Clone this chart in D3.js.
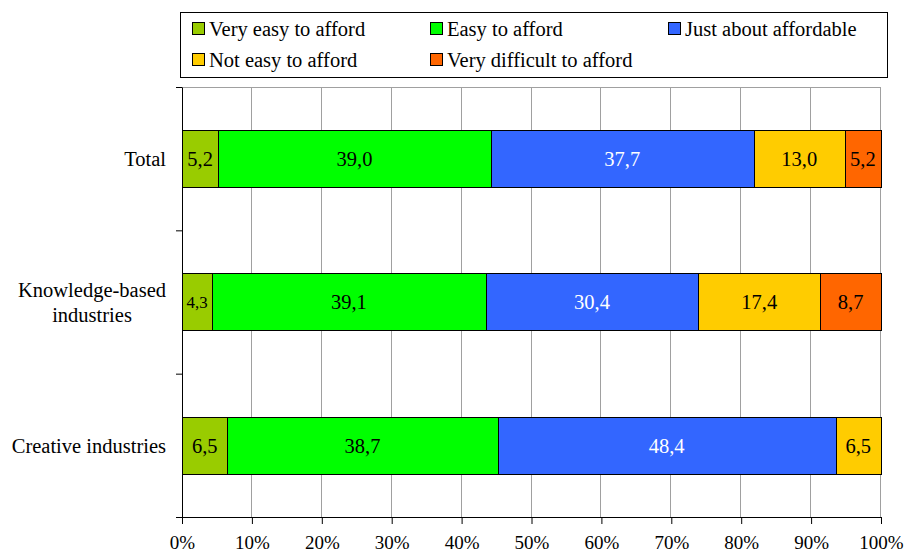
<!DOCTYPE html>
<html>
<head>
<meta charset="utf-8">
<script src="https://cdn.jsdelivr.net/npm/d3@7"></script>
<style>
body { margin: 0; background: #fff; }
svg text { font-family: "Liberation Serif", "Times New Roman", Times, serif; }
</style>
</head>
<body>
<div id="chart"></div>
<script>
var categories = ["Total", "Knowledge-based industries", "Creative industries"],
    series = ["Very easy to afford", "Easy to afford", "Just about affordable", "Not easy to afford", "Very difficult to afford"],
    veryEasy = [5.2, 4.3, 6.5],
    easy = [39.0, 39.1, 38.7],
    justAbout = [37.7, 30.4, 48.4],
    notEasy = [13.0, 17.4, 6.5],
    veryDifficult = [5.2, 8.7, 0],
    xTicks = [0, 0.1, 0.2, 0.3, 0.4, 0.5, 0.6, 0.7, 0.8, 0.9, 1];

var colors = ["#99cc00", "#00ff00", "#3366ff", "#ffcc00", "#ff6600"],
    labelColors = ["#000", "#000", "#fff", "#000", "#000"],
    serif = '"Liberation Serif", "Times New Roman", Times, serif',
    fontSize = 20.5;

var margin = {top: 87, right: 24, bottom: 36, left: 182},
    width = 905 - margin.left - margin.right,
    height = 553 - margin.top - margin.bottom;

var locale = d3.formatLocale({decimal: ",", thousands: ".", grouping: [3], currency: ["", ""]}),
    fmt = locale.format(".1f");

var columns = [veryEasy, easy, justAbout, notEasy, veryDifficult];
var rows = categories.map(function(c, i) {
    var r = {category: c};
    series.forEach(function(s, j) { r[s] = columns[j][i]; });
    return r;
});

var stacked = d3.stack().keys(series).offset(d3.stackOffsetExpand)(rows);

var x = d3.scaleLinear().domain([0, 1]).range([0, width]);
var y = d3.scaleBand().domain(categories).range([0, height]);
var yEdge = d3.scaleLinear().domain([0, categories.length]).range([0, height]);

var svgRoot = d3.select("#chart").append("svg")
    .attr("width", 905)
    .attr("height", 553)
    .attr("font-family", serif);

var svg = svgRoot.append("g")
    .attr("transform", "translate(" + margin.left + "," + margin.top + ")");

// gridlines
svg.append("g").selectAll("line")
    .data(xTicks.slice(1))
    .enter().append("line")
    .attr("x1", function(d) { return Math.round(x(d)) - 0.5; })
    .attr("x2", function(d) { return Math.round(x(d)) - 0.5; })
    .attr("y1", 0)
    .attr("y2", height)
    .attr("stroke", "#a0a0a0");

svg.append("line")
    .attr("x1", -6).attr("x2", width)
    .attr("y1", 0.5).attr("y2", 0.5)
    .attr("stroke", "#a0a0a0");

// bars
var layer = svg.append("g").selectAll("g")
    .data(stacked)
    .enter().append("g")
    .attr("fill", function(d, i) { return colors[i]; });

layer.selectAll("rect")
    .data(function(d) { return d.filter(function(p) { return p[1] - p[0] > 0; }); })
    .enter().append("rect")
    .attr("x", function(d) { return Math.round(x(d[0])) + 0.5; })
    .attr("width", function(d) { return Math.round(x(d[1])) - Math.round(x(d[0])); })
    .attr("y", function(d) { return Math.round(y(d.data.category) + y.bandwidth() * 0.3) + 0.5; })
    .attr("height", Math.round(y.bandwidth() * 0.4))
    .attr("stroke", "#000")
    .attr("stroke-width", 1);

// bar labels, shrunk when the segment is narrow
stacked.forEach(function(s, i) {
    s.forEach(function(p) {
        var v = p.data[s.key];
        if (!v) return;
        var segW = x(p[1]) - x(p[0]);
        var t = svg.append("text")
            .attr("x", (x(p[0]) + x(p[1])) / 2)
            .attr("y", y(p.data.category) + y.bandwidth() / 2)
            .attr("dy", "0.35em")
            .attr("text-anchor", "middle")
            .attr("fill", labelColors[i])
            .style("font-family", serif)
            .style("font-size", fontSize + "px")
            .text(fmt(v));
        var w = t.node().getComputedTextLength();
        if (w > segW - 9) t.style("font-size", (fontSize * (segW - 9) / w) + "px");
    });
});

// axes
var xAxis = svg.append("g")
    .attr("transform", "translate(0," + height + ")")
    .call(d3.axisBottom(x).tickValues(xTicks).tickSize(7).tickSizeOuter(0).tickFormat(d3.format(".0%")));
xAxis.attr("font-family", serif);
xAxis.select(".domain").attr("stroke", "#000");
xAxis.selectAll(".tick line").attr("stroke", "#000");
xAxis.selectAll("text")
    .attr("y", 32)
    .attr("dy", null)
    .attr("fill", "#000")
    .style("font-family", serif)
    .style("font-size", "19px");

var yAxis = svg.append("g")
    .call(d3.axisLeft(yEdge).tickValues(d3.range(categories.length + 1)).tickSize(6).tickSizeOuter(0).tickFormat(""));
yAxis.select(".domain").attr("stroke", "#000");
yAxis.selectAll(".tick line").attr("stroke", "#000");

// category labels (wrapped, block right-aligned, lines centred)
categories.forEach(function(c) {
    var words = c.split(" "), lines = [], line = [];
    var probe = svg.append("text").style("font-family", serif).style("font-size", fontSize + "px");
    words.forEach(function(w) {
        var test = line.concat([w]).join(" ");
        probe.text(test);
        if (line.length && probe.node().getComputedTextLength() > 165) {
            lines.push(line.join(" "));
            line = [w];
        } else line.push(w);
    });
    lines.push(line.join(" "));
    var maxW = 0;
    lines.forEach(function(l) { probe.text(l); maxW = Math.max(maxW, probe.node().getComputedTextLength()); });
    probe.remove();
    var cy = y(c) + y.bandwidth() / 2,
        lh = 25;
    svg.append("text")
        .attr("text-anchor", "middle")
        .style("font-family", serif)
        .style("font-size", fontSize + "px")
        .attr("fill", "#000")
        .selectAll("tspan")
        .data(lines)
        .enter().append("tspan")
        .attr("x", -16 - maxW / 2)
        .attr("y", function(d, i) { return cy + (i - (lines.length - 1) / 2) * lh; })
        .attr("dy", "0.35em")
        .text(function(d) { return d; });
});

// legend
var legend = svgRoot.append("g");
legend.append("rect")
    .attr("x", 180.5).attr("y", 12.5)
    .attr("width", 707).attr("height", 65)
    .attr("fill", "#fff")
    .attr("stroke", "#000");

var items = legend.selectAll("g.item")
    .data(series)
    .enter().append("g")
    .attr("class", "item")
    .attr("transform", function(d, i) {
        return "translate(" + (192 + (i % 3) * 238) + "," + (29 + Math.floor(i / 3) * 31) + ")";
    });

items.append("rect")
    .attr("x", 0.5).attr("y", -6.5)
    .attr("width", 12).attr("height", 12)
    .attr("fill", function(d, i) { return colors[i]; })
    .attr("stroke", "#000");

items.append("text")
    .attr("x", 17)
    .attr("dy", "0.35em")
    .style("font-family", serif)
    .style("font-size", fontSize + "px")
    .attr("fill", "#000")
    .text(function(d) { return d; });
</script>
</body>
</html>
